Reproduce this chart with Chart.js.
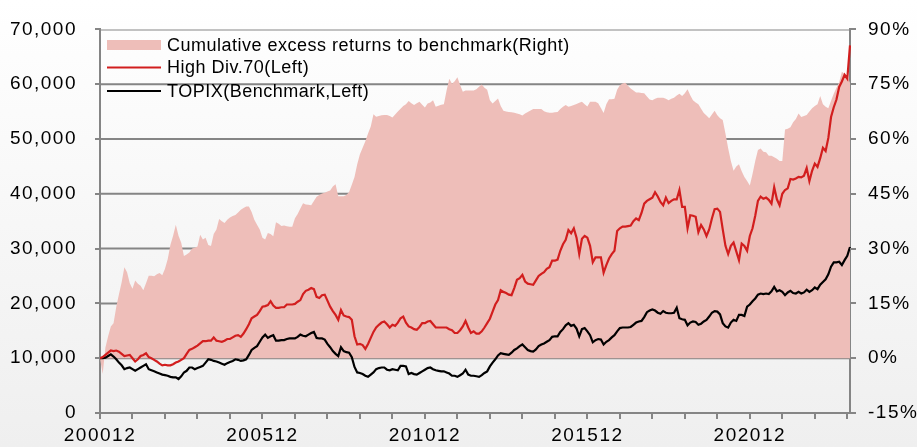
<!DOCTYPE html>
<html>
<head>
<meta charset="utf-8">
<script src="https://cdn.jsdelivr.net/npm/chart.js@4.4.1/dist/chart.umd.min.js"></script>
<style>
  html, body { margin: 0; padding: 0; background: #fff; }
  #chart { display: block; background: linear-gradient(#ffffff, #efefef); }
</style>
</head>
<body>
<canvas id="chart" width="917" height="447"></canvas>
<script>
// monthly points, 200012 .. 202401
const startYear = 2000;
const startMonth = 12;

const highDiv = [
  10000, 10200, 10600, 11000, 11400, 11300, 11400, 11200, 10800, 10400, 10500, 10600,
  10000, 9400, 9800, 10400, 10600, 10900, 10200, 10000, 9700, 9400, 9000, 8700,
  8800, 8700, 8700, 8900, 9200, 9400, 9700, 10000, 10800, 11500, 11700, 12000,
  12300, 12700, 13100, 13100, 13200, 13200, 13800, 13200, 13100, 13000, 13200, 13500,
  13500, 13800, 14100, 14200, 13900, 14500, 15300, 16200, 17300, 17600, 17900, 18600,
  19400, 19500, 19700, 20400, 19600, 19200, 19200, 19300, 19300, 19800, 19800, 19800,
  19900, 20300, 20600, 21700, 22300, 22500, 22800, 22600, 21200, 21000, 21500, 21600,
  20500, 19400, 18600, 17900, 17000, 18800, 17800, 17600, 17500, 17000, 14000, 12500,
  12600, 12400, 11700, 12600, 13700, 14800, 15600, 16100, 16500, 16700, 16200, 15600,
  16100, 15900, 16500, 17300, 17600, 16500, 15800, 15600, 15300, 15200, 15700, 16400,
  16400, 16700, 16800, 16200, 15600, 15600, 15600, 15600, 15600, 15300, 15100, 14600,
  14600, 15100, 15800, 16800, 15600, 14600, 14900, 14500, 14500, 14900, 15600, 16400,
  17200, 18500, 19800, 20600, 22400, 22100, 21900, 21600, 21500, 22800, 24300, 24600,
  25200, 24000, 23600, 23500, 23400, 24200, 25000, 25400, 25700, 26300, 26600, 27800,
  27800, 28000, 29600, 30800, 31600, 33400, 32800, 33700, 32000, 29000, 31800, 32300,
  32000, 30500, 27500, 28400, 28400, 28400, 25600, 27000, 28200, 29000, 29600, 33200,
  33700, 34000, 34000, 34100, 34200, 35000, 35500, 35200, 36500, 38200, 38700, 39000,
  39300, 40300, 39500, 38500, 37900, 39300, 38300, 38700, 39000, 39000, 40700, 37600,
  37600, 33700, 36100, 36000, 35800, 33000, 34300, 33500, 32300, 33500, 35500, 37200,
  37300, 36700, 33500, 30500, 29000, 30500, 31100, 29500, 27900, 30900, 30500, 29600,
  32300, 33700, 36000, 38700, 39500, 39100, 39300, 38900, 38200, 41200, 39000, 37900,
  40000, 40700, 41000, 42700, 42600, 42800, 43100, 43000, 43300, 44700, 42300, 44200,
  45500, 44900, 46500, 48400, 47800, 50200, 54000, 55800, 57200, 59500, 60500, 61700,
  61000, 67100
];

const topix = [
  10000, 10000, 10100, 10400, 10700, 10300, 9800, 9200, 8700, 8000, 8200, 8300,
  8000, 7700, 8000, 8300, 8600, 8900, 8000, 7800, 7600, 7400, 7200, 7000,
  6900, 6800, 6600, 6500, 6500, 6200, 6700, 7400, 7700, 8300, 8300, 8000,
  8200, 8400, 8600, 9200, 9800, 9700, 9500, 9400, 9200, 9000, 8800, 9100,
  9300, 9500, 9800, 9700, 9500, 9600, 9800, 10600, 11500, 11900, 12200, 13000,
  13800, 14300, 13700, 14000, 14200, 13200, 13200, 13300, 13300, 13500, 13600, 13600,
  13600, 13900, 14300, 14100, 14000, 14300, 14600, 14800, 13700, 13600, 13600, 13400,
  12600, 12000, 11300, 10800, 10400, 12000, 11300, 11100, 11000, 10200, 8400, 7400,
  7300, 7100, 6800, 6600, 7000, 7400, 8000, 8200, 8300, 8300, 7900, 7800,
  8000, 7900, 7800, 8600, 8600, 8500, 7100, 7300, 7100, 7000, 7300, 7600,
  7900, 8200, 8300, 8000, 7800, 7700, 7600, 7600, 7400, 7200, 6800, 6800,
  6600, 6900, 7200, 7900, 7000, 6800, 6800, 6700, 6600, 6900, 7300, 7600,
  8500, 9200, 9800, 10500, 10900, 10800, 10700, 10600, 11000, 11500, 11800, 12200,
  12500, 12000, 11500, 11300, 11200, 11600, 12200, 12500, 12700, 13000, 13300, 13900,
  14000, 14000, 14800, 15300, 16000, 16400, 15900, 16100, 15400, 14000, 15300, 15500,
  14900, 14200, 12900, 13300, 13500, 13400, 12500, 13000, 13300, 13800, 14200, 14900,
  15500, 15600, 15600, 15600, 15700, 16100, 16500, 16700, 16800, 17500, 18400, 18700,
  18900, 18700, 18300, 18100, 18600, 18300, 18200, 18200, 18300, 19200, 17300, 17100,
  17000, 16000, 16500, 16700, 16600, 16100, 16300, 16700, 17000, 17600, 18300, 18600,
  18500, 18000, 16400, 15800, 15600, 16500, 17000, 16800, 17900, 17900, 17700, 19400,
  19800, 20400, 20900, 21600, 21800, 21700, 21800, 21700, 22200, 23000, 22200, 22400,
  22100, 21500, 22000, 22300, 21900, 21800, 22100, 21800, 22000, 22500, 22100, 22400,
  22900, 22600, 23400, 23900, 24400, 25300, 26700, 27500, 27500, 27600, 27000, 27900,
  28700, 30300
];

// cumulative excess return, %
const excess = [
  0, -4.3, 2.9, 6.0, 8.7, 9.6, 14.0, 17.5, 20.8, 24.9, 23.5, 20.5,
  19.0, 21.3, 20.4, 19.8, 18.6, 20.5, 22.6, 22.6, 22.4, 23.0, 23.3, 22.7,
  24.5, 27.1, 31.0, 33.5, 36.5, 33.5, 31.6, 28.0, 28.4, 28.9, 30.0, 30.2,
  30.6, 33.8, 32.5, 33.0, 31.0, 30.7, 34.0, 35.2, 38.1, 37.5, 37.0, 37.9,
  38.5, 38.9, 39.2, 39.9, 40.6, 41.1, 41.5, 41.5, 40.0, 37.9, 36.5, 35.2,
  33.0, 32.5, 34.3, 34.0, 33.4, 37.2, 36.8, 36.2, 36.3, 36.1, 36.0, 36.0,
  38.3, 39.5, 41.0, 42.4, 42.1, 42.0, 41.9, 43.0, 44.2, 44.7, 45.1, 45.3,
  45.6, 45.9, 47.0, 47.6, 44.3, 44.3, 44.3, 44.7, 45.5, 47.5, 49.6, 53.1,
  55.8, 57.6, 59.4, 61.5, 63.4, 66.8, 66.1, 66.3, 66.5, 66.6, 66.6, 66.3,
  65.9, 66.7, 67.5, 68.3, 69.0, 69.5, 70.4, 69.8, 69.3, 69.8, 70.2, 69.4,
  68.6, 69.7, 70.0, 70.6, 68.8, 69.1, 69.4, 69.5, 73.3, 76.5, 75.1, 75.8,
  76.9, 74.8, 72.9, 73.3, 73.3, 73.3, 73.3, 73.6, 74.3, 74.9, 74.0, 73.5,
  70.6, 69.7, 70.4, 71.1, 69.0, 67.7, 67.5, 67.4, 67.3, 67.2, 67.0, 66.8,
  66.4, 67.0, 67.4, 67.8, 68.2, 68.2, 68.2, 68.2, 67.6, 67.3, 67.2, 67.2,
  67.3, 67.4, 68.2, 68.8, 69.3, 68.8, 69.0, 69.3, 69.6, 69.9, 70.2, 69.5,
  68.9, 70.2, 70.2, 70.2, 69.8, 68.5, 67.1, 69.5, 70.9, 70.9, 71.0, 73.5,
  74.7, 75.2, 75.4, 74.6, 73.8, 73.3, 72.7, 72.7, 72.6, 72.5, 71.6, 70.8,
  70.6, 71.0, 71.3, 71.3, 71.3, 71.0, 70.6, 71.0, 71.3, 71.9, 72.4, 71.8,
  72.5, 73.6, 72.0, 70.6, 70.0, 69.5, 68.3, 67.1, 66.4, 65.7, 66.7, 67.7,
  66.5, 65.7, 65.2, 61.5, 57.5, 54.0, 51.3, 52.5, 53.1, 51.2, 49.6, 48.5,
  47.3, 50.4, 54.0, 57.0, 57.4, 56.5, 56.4, 55.4, 55.4, 55.0, 54.6, 54.0,
  54.0, 62.6, 62.8, 63.2, 64.6, 65.5, 67.0, 66.0, 66.3, 66.6, 67.5, 68.4,
  69.0, 69.5, 71.8, 69.5, 68.8, 68.4, 70.5, 72.4, 74.0, 75.5, 78.4, 77.8,
  77.4, 75.4
];

// left axis tick values (gridlines sit on these)
const leftTicks = [0, 10000, 20000, 30000, 40000, 50000, 60000, 70000];

const months = [];
for (let i = 0; i < highDiv.length; i++) {
  const m = startMonth - 1 + i;
  const y = startYear + Math.floor(m / 12);
  months.push(String(y) + String(m % 12 + 1).padStart(2, '0'));
}

const legendNames = [
  'Cumulative excess returns to benchmark(Right)',
  'High Div.70(Left)',
  'TOPIX(Benchmark,Left)'
];

const pink = 'rgb(238, 190, 185)';
const red = 'rgb(210, 30, 30)';
const gray = '#858585';
const clear = 'rgba(0,0,0,0)';
const font = '"Liberation Sans", Arial, sans-serif';

Chart.defaults.font.family = font;
Chart.defaults.font.size = 19;
Chart.defaults.color = '#000';

// horizontal gridlines as plain line datasets, drawn behind the area
const gridSets = leftTicks.map((v) => ({
  label: 'grid',
  data: [{ x: months[0], y: v }, { x: months[months.length - 1], y: v }],
  yAxisID: 'y',
  borderColor: gray,
  borderWidth: 2,
  pointRadius: 0,
  fill: false,
  order: 5
}));

// small tick marks outside the plot
const tickMarks = {
  id: 'tickMarks',
  afterDatasetsDraw(chart) {
    const ctx = chart.ctx;
    const area = chart.chartArea;
    const sy = chart.scales.y;
    const sy1 = chart.scales.y1;
    const sx = chart.scales.x;
    ctx.save();
    ctx.fillStyle = gray;
    sy.ticks.forEach((t) => {
      const y = Math.round(sy.getPixelForValue(t.value));
      ctx.fillRect(area.left - 5, y - 1, 5, 2);
    });
    sy1.ticks.forEach((t) => {
      const y = Math.round(sy1.getPixelForValue(t.value));
      ctx.fillRect(area.right, y - 1, 6, 2);
    });
    months.forEach((m, i) => {
      if (i % 12 !== 0) return;
      const x = Math.round(sx.getPixelForValue(i));
      ctx.fillRect(x - 1, area.bottom, 2, 6);
    });
    ctx.restore();
    // tick labels (z: 1) come after this, with wider letters
    ctx.letterSpacing = '1.5px';
  }
};

// legend drawn inside the plot, top left
const innerLegend = {
  id: 'innerLegend',
  afterDraw(chart) {
    const ctx = chart.ctx;
    const left = chart.chartArea.left + 7;
    const rows = [45, 67.5, 91];
    ctx.save();
    ctx.letterSpacing = '0.5px';
    ctx.font = '18px ' + font;
    ctx.textBaseline = 'middle';
    chart.data.datasets.slice(0, 3).forEach((ds, i) => {
      const y = rows[i];
      if (ds.fill) {
        ctx.fillStyle = ds.backgroundColor;
        ctx.fillRect(left, y - 5, 54, 10);
      } else {
        ctx.fillStyle = ds.borderColor;
        ctx.fillRect(left, y - 1, 54, 2);
      }
      ctx.fillStyle = '#000';
      ctx.fillText(ds.label, left + 60, y + 1);
    });
    ctx.restore();
    ctx.letterSpacing = '0px';
  }
};

new Chart(document.getElementById('chart'), {
  type: 'line',
  data: {
    labels: months,
    datasets: [
      {
        label: legendNames[0],
        data: excess,
        yAxisID: 'y1',
        fill: 'origin',
        backgroundColor: pink,
        borderColor: clear,
        borderWidth: 0,
        pointRadius: 0,
        order: 2
      },
      {
        label: legendNames[1],
        data: highDiv,
        yAxisID: 'y',
        borderColor: red,
        borderWidth: 2.2,
        pointRadius: 0,
        fill: false,
        order: 0
      },
      {
        label: legendNames[2],
        data: topix,
        yAxisID: 'y',
        borderColor: '#000',
        borderWidth: 2.2,
        pointRadius: 0,
        fill: false,
        order: 1
      },
      ...gridSets
    ]
  },
  options: {
    responsive: false,
    animation: false,
    layout: { padding: { top: 23, left: 0, right: 0, bottom: 0 } },
    plugins: {
      legend: { display: false },
      tooltip: { enabled: false }
    },
    scales: {
      x: {
        afterFit: (s) => { s.height = 34; },
        grid: { drawOnChartArea: false, color: clear, tickColor: clear, tickLength: 5 },
        border: { color: gray, width: 2 },
        ticks: {
          z: 1,
          autoSkip: false,
          maxRotation: 0,
          minRotation: 0,
          padding: 6,
          callback: (v, i) => (i % 60 === 0 ? months[i] : '')
        }
      },
      y: {
        position: 'left',
        min: 0,
        max: 70000,
        afterFit: (s) => { s.width = 100; },
        grid: { drawOnChartArea: false, color: clear, tickColor: clear, tickLength: 5 },
        border: { color: gray, width: 2 },
        ticks: {
          z: 1,
          stepSize: 10000,
          padding: 18,
          callback: (v) => v.toLocaleString('en-US')
        }
      },
      y1: {
        position: 'right',
        min: -15,
        max: 90,
        afterFit: (s) => { s.width = 67; },
        grid: { drawOnChartArea: false, color: clear, tickColor: clear, tickLength: 5 },
        border: { color: gray, width: 2 },
        ticks: {
          z: 1,
          stepSize: 15,
          padding: 13,
          callback: (v) => v + '%'
        }
      }
    }
  },
  plugins: [tickMarks, innerLegend]
});
</script>
</body>
</html>
